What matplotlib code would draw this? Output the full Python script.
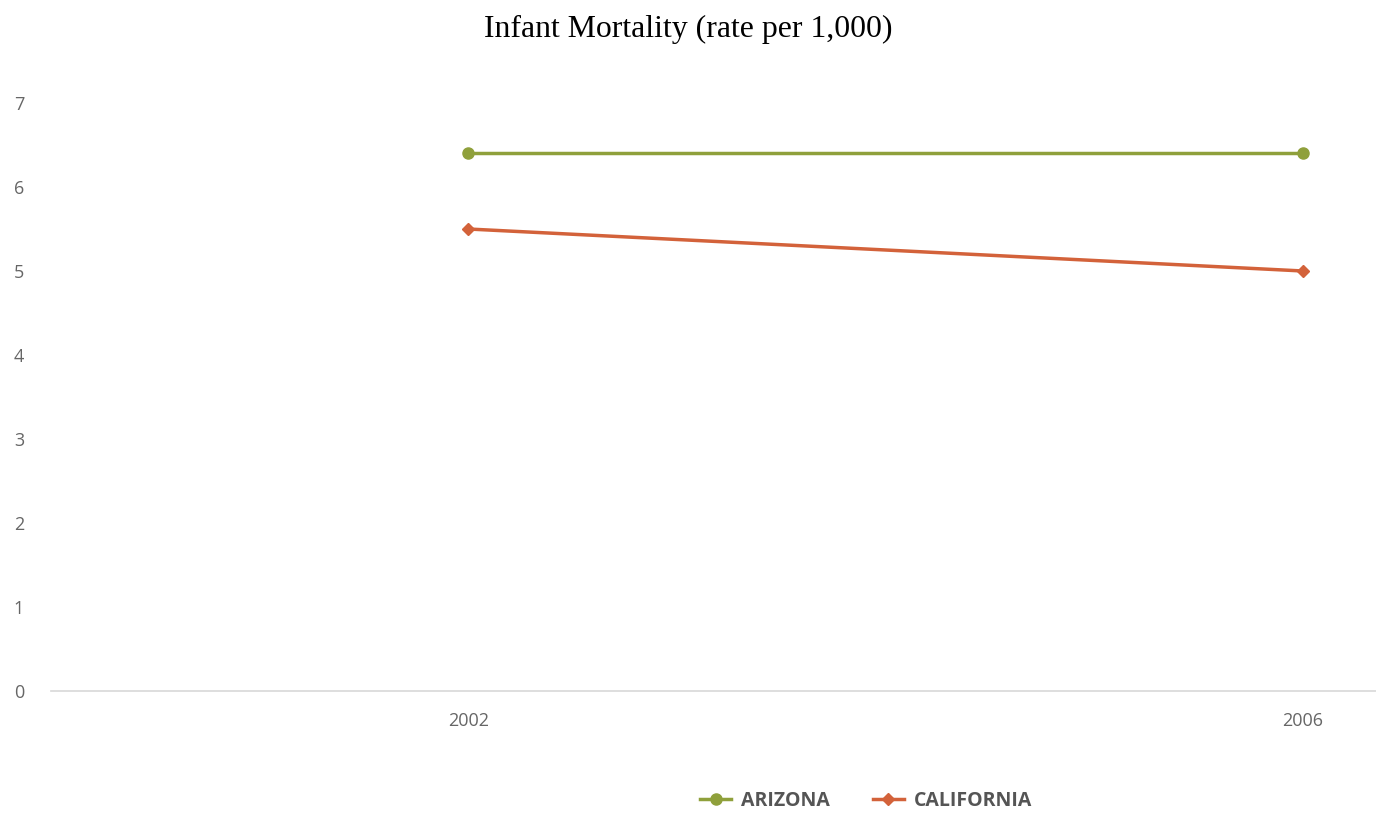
import matplotlib.pyplot as plt
from matplotlib.lines import Line2D

# data
years = [2002, 2006]
arizona = [6.4, 6.4]
california = [5.5, 5.0]
y_ticks = [0, 1, 2, 3, 4, 5, 6, 7]

GREEN = "#8fa03b"
ORANGE = "#d3623a"
GREY = "#666666"

fig = plt.figure(figsize=(13.76, 8.15), dpi=100)
ax = fig.add_axes([51 / 1376, 1 - 691 / 815, 1 - 51 / 1376, (691 - 103) / 815])

ax.plot(years, arizona, color=GREEN, linewidth=2.5, marker="o", markersize=8,
        clip_on=False, zorder=3)
ax.plot(years, california, color=ORANGE, linewidth=2.5, marker="D", markersize=6,
        clip_on=False, zorder=3)

ax.set_xlim(2000.0, 2006.35)
ax.set_ylim(0, 7)
ax.set_yticks(y_ticks)
ax.set_xticks(years)
ax.set_xticklabels([str(y) for y in years])

for s in ["top", "right", "left"]:
    ax.spines[s].set_visible(False)
ax.spines["bottom"].set_color("#d8d8d8")
ax.spines["bottom"].set_linewidth(1.2)

ax.tick_params(axis="y", length=0, pad=0, labelsize=13, labelcolor=GREY)
ax.tick_params(axis="x", length=0, pad=15, labelsize=13, labelcolor=GREY)
for lab in ax.get_yticklabels():
    lab.set_horizontalalignment("left")
    lab.set_x(-0.028)
for lab in ax.get_yticklabels() + ax.get_xticklabels():
    lab.set_family("Open Sans")

fig.text(0.5, 1 - 29 / 815, "Infant Mortality (rate per 1,000)", ha="center", va="center",
         fontsize=22.9, family="Liberation Serif", color="black")

handles = [
    Line2D([], [], color=GREEN, linewidth=2.5, marker="o", markersize=8),
    Line2D([], [], color=ORANGE, linewidth=2.5, marker="D", markersize=6),
]
fig.legend(handles, ["ARIZONA", "CALIFORNIA"], loc="center", bbox_to_anchor=(866 / 1376, 1 - 801 / 815),
           ncol=2, frameon=False, handlelength=1.6, columnspacing=2.2, handletextpad=0.5,
           prop={"family": "Open Sans", "weight": "bold", "size": 14}, labelcolor="#555555")

fig.savefig("out.png", dpi=100)
